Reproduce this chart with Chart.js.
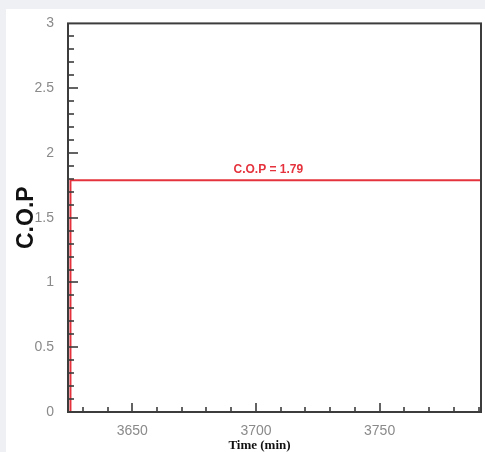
<!DOCTYPE html>
<html>
<head>
<meta charset="utf-8">
<script src="https://cdn.jsdelivr.net/npm/chart.js@4/dist/chart.umd.min.js"></script>
<style>
  html, body { margin: 0; padding: 0; background: #eef0f3; }
  #panel { position: absolute; left: 6px; top: 9px; width: 479px; height: 443px; background: #fff; }
</style>
</head>
<body>
<div id="panel"><canvas id="myChart"></canvas></div>
<script>
// C.O.P over time
const timeVals = [3625, 3625, 3791];
const copVals = [0, 1.79, 1.79];

// tick labels
const xTickLabels = [3650, 3700, 3750];
const yTickLabels = [0, 0.5, 1, 1.5, 2, 2.5, 3];
const xMinorStep = 10;
const yMinorStep = 0.1;

const copLabel = "C.O.P = 1.79";
const copLabelAt = 3705;

const red = "#e5333d";
const axisColor = "#3c3c3c";

const points = timeVals.map((t, i) => ({ x: t, y: copVals[i] }));

// frame + inward ticks + annotation text
const framePlugin = {
  id: "frame",
  afterDraw(chart) {
    const ctx = chart.ctx;
    const a = chart.chartArea;
    const xs = chart.scales.x;
    const ys = chart.scales.y;
    ctx.save();
    ctx.strokeStyle = axisColor;
    ctx.lineWidth = 1.6;

    // minor + major ticks on x
    for (let v = Math.ceil(xs.min / xMinorStep) * xMinorStep; v <= xs.max; v += xMinorStep) {
      const px = Math.round(xs.getPixelForValue(v));
      const len = xTickLabels.includes(v) ? 9 : 5;
      ctx.beginPath();
      ctx.moveTo(px, a.bottom);
      ctx.lineTo(px, a.bottom - len);
      ctx.stroke();
    }
    // minor + major ticks on y
    for (let i = 1; i * yMinorStep < ys.max; i++) {
      const v = +(i * yMinorStep).toFixed(2);
      const py = Math.round(ys.getPixelForValue(v));
      const len = yTickLabels.includes(v) ? 10 : 6;
      ctx.beginPath();
      ctx.moveTo(a.left, py);
      ctx.lineTo(a.left + len, py);
      ctx.stroke();
    }

    ctx.lineWidth = 2;
    ctx.strokeRect(a.left, a.top, a.right - a.left, a.bottom - a.top);

    // label on the line
    ctx.fillStyle = red;
    ctx.font = "bold 12px 'Liberation Sans', Arial, sans-serif";
    ctx.textAlign = "center";
    ctx.textBaseline = "middle";
    ctx.fillText(copLabel, xs.getPixelForValue(copLabelAt), ys.getPixelForValue(copVals[1]) - 10);

    // x axis title
    ctx.fillStyle = "#111";
    ctx.font = "bold 13px 'Liberation Serif', 'Times New Roman', serif";
    ctx.fillText("Time (min)", (a.left + a.right) / 2 - 15, 437);
    ctx.restore();
  }
};

const tickFont = { family: "'Liberation Sans', Arial, sans-serif", size: 14 };

const config = {
  type: "line",
  data: {
    datasets: [
      {
        data: points,
        borderColor: red,
        borderWidth: 2,
        pointRadius: 0,
        tension: 0,
        fill: false,
      },
    ],
  },
  options: {
    responsive: true,
    maintainAspectRatio: false,
    animation: false,
    layout: { padding: { top: 14, right: 4, bottom: 0, left: 0 } },
    plugins: { legend: { display: false }, tooltip: { enabled: false } },
    scales: {
      x: {
        type: "linear",
        min: 3624,
        max: 3791,
        grid: { display: false },
        border: { display: false },
        afterBuildTicks: (s) => { s.ticks = xTickLabels.map((v) => ({ value: v })); },
        afterFit: (s) => { s.height = 40; },
        ticks: {
          color: "#8a8a8a",
          padding: 3,
          maxRotation: 0,
          font: tickFont,
          callback: (v) => String(v),
        },
      },
      y: {
        min: 0,
        max: 3,
        grid: { display: false },
        border: { display: false },
        afterBuildTicks: (s) => { s.ticks = yTickLabels.map((v) => ({ value: v })); },
        afterFit: (s) => { s.width = 62; },
        ticks: {
          color: "#8a8a8a",
          padding: 6,
          font: tickFont,
          callback: (v) => String(v),
        },
        title: {
          display: true,
          text: "C.O.P",
          color: "#111",
          padding: { top: 7, bottom: 0 },
          font: { family: "'Liberation Sans', Arial, sans-serif", size: 23, weight: "bold" },
        },
      },
    },
  },
  plugins: [framePlugin],
};

const myChart = new Chart(document.getElementById("myChart"), config);
</script>
</body>
</html>
